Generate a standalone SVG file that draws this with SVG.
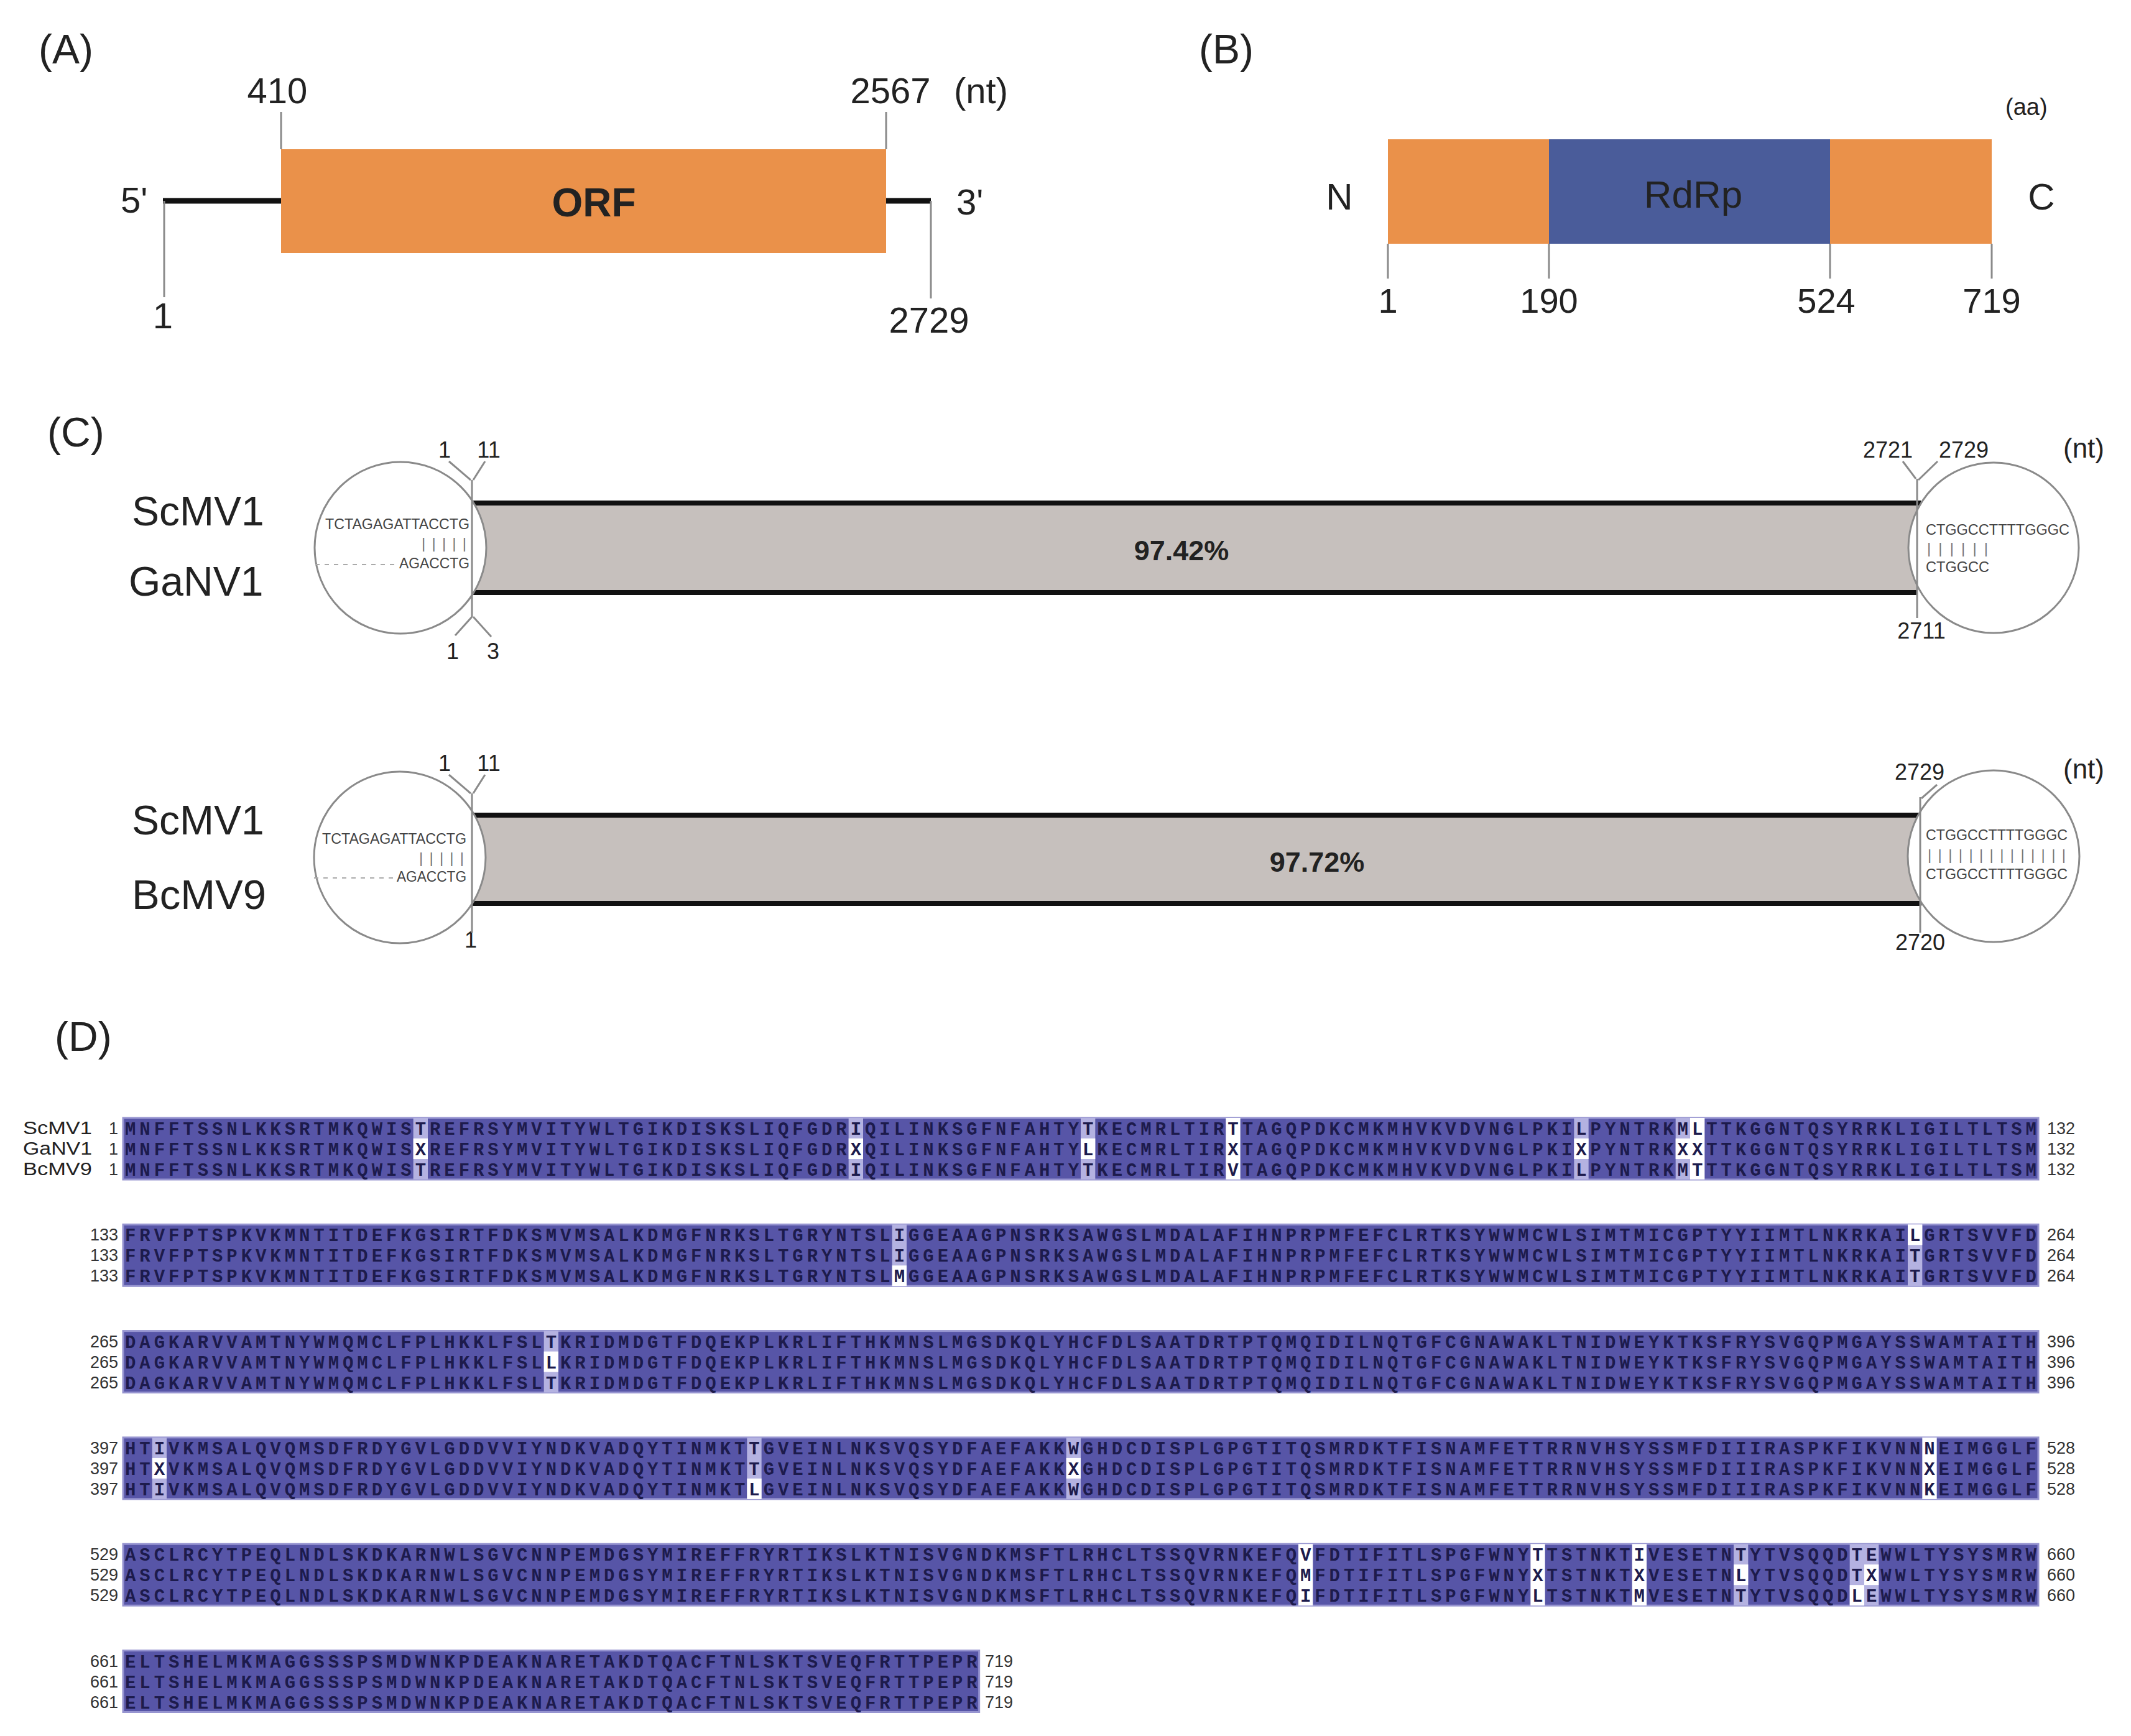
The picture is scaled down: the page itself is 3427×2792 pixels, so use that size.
<svg xmlns="http://www.w3.org/2000/svg" width="3427" height="2792" viewBox="0 0 3427 2792">
<style>
.t{font-family:"Liberation Sans",Arial,sans-serif;fill:#222}
.mid{text-anchor:middle}
.end{text-anchor:end}
.tick{stroke:#8a8a8a;stroke-width:3;fill:none}
.thick{stroke:#111;stroke-width:9}
.bar{stroke:#111;stroke-width:8}
.circ{fill:#fff;stroke:#8a8a8a;stroke-width:3}
.nt{font-family:"Liberation Sans",Arial,sans-serif;font-size:23px;fill:#444}
.pipe{font-family:"Liberation Sans",Arial,sans-serif;font-size:24px;fill:#777}
.seq{font-family:"Liberation Mono","DejaVu Sans Mono",monospace;font-size:29px;font-weight:bold;letter-spacing:5.93px;fill:#1d1b4c}
.num{font-family:"Liberation Sans",Arial,sans-serif;font-size:27px;fill:#333}
.band{fill:#5755a7;stroke:#9694d0;stroke-width:3}
.lav{fill:#b4b2e1}
.wht{fill:#fff}
</style>
<rect width="3427" height="2792" fill="#fff"/>

<!-- Panel A -->
<g id="panelA">
<text class="t" x="62" y="102" font-size="66">(A)</text>
<line class="thick" x1="262" y1="323" x2="452" y2="323"/>
<line class="thick" x1="1425" y1="323" x2="1497" y2="323"/>
<rect id="orf" x="452" y="240" width="973" height="167" fill="#ea914a"/>
<text class="t mid" x="955" y="348" font-size="64" font-weight="bold" fill="#1a1a1a">ORF</text>
<text class="t mid" x="446" y="166" font-size="58">410</text>
<text class="t mid" x="1432" y="166" font-size="58">2567</text>
<text class="t" x="1534" y="166" font-size="58">(nt)</text>
<text class="t" x="194" y="342" font-size="58">5'</text>
<text class="t" x="1538" y="345" font-size="58">3'</text>
<text class="t mid" x="262" y="528" font-size="58">1</text>
<text class="t mid" x="1494" y="535" font-size="58">2729</text>
</g>

<!-- Panel B -->
<g id="panelB">
<text class="t" x="1928" y="102" font-size="66">(B)</text>
<text class="t" x="3225" y="185" font-size="38">(aa)</text>
<rect x="2232" y="224" width="259" height="168" fill="#ea914a"/>
<rect id="rdrp" x="2491" y="224" width="452" height="168" fill="#4a5c9a"/>
<rect x="2943" y="224" width="260" height="168" fill="#ea914a"/>
<text class="t mid" x="2723" y="334" font-size="62" fill="#1b2443">RdRp</text>
<text class="t mid" x="2154" y="337" font-size="60">N</text>
<text class="t mid" x="3283" y="337" font-size="60">C</text>
<text class="t mid" x="2232" y="503" font-size="56">1</text>
<text class="t mid" x="2491" y="503" font-size="56">190</text>
<text class="t mid" x="2937" y="503" font-size="56">524</text>
<text class="t mid" x="3203" y="503" font-size="56">719</text>
</g>

<!-- Panel C -->
<g id="panelC">
<text class="t" x="76" y="718" font-size="66">(C)</text>
<text class="t" x="212" y="845" font-size="66">ScMV1</text>
<text class="t" x="207" y="958" font-size="66">GaNV1</text>
<text class="t" x="212" y="1342" font-size="66">ScMV1</text>
<text class="t" x="212" y="1462" font-size="67">BcMV9</text>

<g id="cmp1">
<rect x="759" y="813" width="2324" height="136" fill="#c6c0bd"/>
<line class="bar" x1="754" y1="809" x2="3089" y2="809"/>
<line class="bar" x1="754" y1="953" x2="3084" y2="953"/>
<circle class="circ" cx="644" cy="881" r="138"/>
<circle class="circ" cx="3206" cy="881" r="137"/>
<text class="t mid" x="1900" y="901" font-size="45" font-weight="bold">97.42%</text>
<text class="nt" x="523" y="851" textLength="232" lengthAdjust="spacingAndGlyphs">TCTAGAGATTACCTG</text>
<text class="pipe" x="678" y="882" textLength="72" lengthAdjust="spacing">|||||</text>
<line x1="507" y1="908" x2="639" y2="908" stroke="#aaa" stroke-width="2" stroke-dasharray="7 8"/>
<text class="nt" x="642" y="914" textLength="113" lengthAdjust="spacingAndGlyphs">AGACCTG</text>
<text class="nt" x="3097" y="860" textLength="231" lengthAdjust="spacingAndGlyphs">CTGGCCTTTTGGGC</text>
<text class="pipe" x="3099" y="890" textLength="98" lengthAdjust="spacing">||||||</text>
<text class="nt" x="3097" y="920" textLength="102" lengthAdjust="spacingAndGlyphs">CTGGCC</text>
<text class="t mid" x="715" y="736" font-size="36">1</text>
<text class="t mid" x="786" y="736" font-size="36">11</text>
<text class="t mid" x="728" y="1060" font-size="36">1</text>
<text class="t mid" x="793" y="1060" font-size="36">3</text>
<text class="t mid" x="3036" y="736" font-size="36">2721</text>
<text class="t mid" x="3158" y="736" font-size="36">2729</text>
<text class="t" x="3318" y="736" font-size="44">(nt)</text>
<text class="t mid" x="3090" y="1027" font-size="36">2711</text>
</g>

<g id="cmp2">
<rect x="759" y="1315" width="2329" height="134" fill="#c6c0bd"/>
<line class="bar" x1="754" y1="1311" x2="3090" y2="1311"/>
<line class="bar" x1="754" y1="1453" x2="3090" y2="1453"/>
<circle class="circ" cx="643" cy="1379" r="138"/>
<circle class="circ" cx="3206" cy="1377" r="138"/>
<text class="t mid" x="2118" y="1402" font-size="45" font-weight="bold">97.72%</text>
<text class="nt" x="518" y="1357" textLength="232" lengthAdjust="spacingAndGlyphs">TCTAGAGATTACCTG</text>
<text class="pipe" x="674" y="1388" textLength="72" lengthAdjust="spacing">|||||</text>
<line x1="505" y1="1412" x2="635" y2="1412" stroke="#aaa" stroke-width="2" stroke-dasharray="7 8"/>
<text class="nt" x="638" y="1418" textLength="112" lengthAdjust="spacingAndGlyphs">AGACCTG</text>
<text class="nt" x="3097" y="1351" textLength="228" lengthAdjust="spacingAndGlyphs">CTGGCCTTTTGGGC</text>
<text class="pipe" x="3100" y="1383" textLength="222" lengthAdjust="spacing">||||||||||||||</text>
<text class="nt" x="3097" y="1414" textLength="228" lengthAdjust="spacingAndGlyphs">CTGGCCTTTTGGGC</text>
<text class="t mid" x="715" y="1240" font-size="36">1</text>
<text class="t mid" x="786" y="1240" font-size="36">11</text>
<text class="t mid" x="757" y="1524" font-size="36">1</text>
<text class="t mid" x="3087" y="1254" font-size="36">2729</text>
<text class="t" x="3318" y="1252" font-size="44">(nt)</text>
<text class="t mid" x="3088" y="1528" font-size="36">2720</text>
</g>
</g>

<!-- connectors / ticks -->
<g id="connectors">
<line class="tick" x1="452" y1="180" x2="452" y2="240"/>
<line class="tick" x1="1425" y1="180" x2="1425" y2="240"/>
<line class="tick" x1="264" y1="323" x2="264" y2="478"/>
<line class="tick" x1="1497" y1="323" x2="1497" y2="480"/>
<line class="tick" x1="2232" y1="392" x2="2232" y2="448"/>
<line class="tick" x1="2491" y1="392" x2="2491" y2="448"/>
<line class="tick" x1="2943" y1="392" x2="2943" y2="448"/>
<line class="tick" x1="3203" y1="392" x2="3203" y2="448"/>
<line class="tick" x1="722" y1="742" x2="757" y2="772"/>
<line class="tick" x1="780" y1="742" x2="761" y2="772"/>
<line class="tick" x1="759" y1="772" x2="759" y2="992"/>
<line class="tick" x1="759" y1="992" x2="732" y2="1022"/>
<line class="tick" x1="761" y1="992" x2="790" y2="1024"/>
<line class="tick" x1="722" y1="1246" x2="757" y2="1276"/>
<line class="tick" x1="780" y1="1246" x2="761" y2="1276"/>
<line class="tick" x1="759" y1="1276" x2="759" y2="1500"/>
<line class="tick" x1="3060" y1="742" x2="3081" y2="770"/>
<line class="tick" x1="3116" y1="742" x2="3085" y2="772"/>
<line class="tick" x1="3083" y1="770" x2="3083" y2="994"/>
<line class="tick" x1="3115" y1="1262" x2="3090" y2="1284"/>
<line class="tick" x1="3088" y1="1282" x2="3088" y2="1500"/>
</g>

<!-- Panel D -->
<g id="panelD">
<text class="t" x="88" y="1690" font-size="66">(D)</text>
<text class="t" x="37" y="1824" font-size="29" textLength="111" lengthAdjust="spacingAndGlyphs">ScMV1</text>
<text class="t" x="37" y="1857" font-size="29" textLength="111" lengthAdjust="spacingAndGlyphs">GaNV1</text>
<text class="t" x="37" y="1890" font-size="29" textLength="111" lengthAdjust="spacingAndGlyphs">BcMV9</text>

<g id="block1" transform="translate(0,1798)">
<rect class="band" x="198" y="0" width="3080" height="99"/>
<rect class="lav" x="664.67" y="0" width="23.33" height="99"/><rect class="wht" x="664.67" y="33" width="23.33" height="33"/>
<rect class="lav" x="1364.67" y="0" width="23.33" height="99"/><rect class="wht" x="1364.67" y="33" width="23.33" height="33"/>
<rect class="lav" x="1738" y="0" width="23.33" height="99"/><rect class="wht" x="1738" y="33" width="23.33" height="33"/>
<rect class="wht" x="1971.33" y="0" width="23.33" height="99"/>
<rect class="lav" x="2531.33" y="0" width="23.33" height="99"/><rect class="wht" x="2531.33" y="33" width="23.33" height="33"/>
<rect class="lav" x="2694.67" y="0" width="23.33" height="99"/><rect class="wht" x="2694.67" y="33" width="23.33" height="33"/>
<rect class="wht" x="2718" y="0" width="23.33" height="99"/>
<text class="seq" x="201" y="27">MNFFTSSNLKKSRTMKQWISTREFRSYMVITYWLTGIKDISKSLIQFGDRIQILINKSGFNFAHTYTKECMRLTIRTTAGQPDKCMKMHVKVDVNGLPKILPYNTRKMLTTKGGNTQSYRRKLIGILTLTSM</text>
<text class="seq" x="201" y="60">MNFFTSSNLKKSRTMKQWISXREFRSYMVITYWLTGIKDISKSLIQFGDRXQILINKSGFNFAHTYLKECMRLTIRXTAGQPDKCMKMHVKVDVNGLPKIXPYNTRKXXTTKGGNTQSYRRKLIGILTLTSM</text>
<text class="seq" x="201" y="93">MNFFTSSNLKKSRTMKQWISTREFRSYMVITYWLTGIKDISKSLIQFGDRIQILINKSGFNFAHTYTKECMRLTIRVTAGQPDKCMKMHVKVDVNGLPKILPYNTRKMTTTKGGNTQSYRRKLIGILTLTSM</text>
<text class="num end" x="190" y="26">1</text><text class="num end" x="190" y="59">1</text><text class="num end" x="190" y="92">1</text>
<text class="num" x="3292" y="26">132</text><text class="num" x="3292" y="59">132</text><text class="num" x="3292" y="92">132</text>
</g>

<g id="block2" transform="translate(0,1969.3)">
<rect class="band" x="198" y="0" width="3080" height="99"/>
<rect class="lav" x="1434.67" y="0" width="23.33" height="99"/><rect class="wht" x="1434.67" y="66" width="23.33" height="33"/>
<rect class="lav" x="3068" y="0" width="23.33" height="99"/><rect class="wht" x="3068" y="0" width="23.33" height="33"/>
<text class="seq" x="201" y="27">FRVFPTSPKVKMNTITDEFKGSIRTFDKSMVMSALKDMGFNRKSLTGRYNTSLIGGEAAGPNSRKSAWGSLMDALAFIHNPRPMFEFCLRTKSYWWMCWLSIMTMICGPTYYIIMTLNKRKAILGRTSVVFD</text>
<text class="seq" x="201" y="60">FRVFPTSPKVKMNTITDEFKGSIRTFDKSMVMSALKDMGFNRKSLTGRYNTSLIGGEAAGPNSRKSAWGSLMDALAFIHNPRPMFEFCLRTKSYWWMCWLSIMTMICGPTYYIIMTLNKRKAITGRTSVVFD</text>
<text class="seq" x="201" y="93">FRVFPTSPKVKMNTITDEFKGSIRTFDKSMVMSALKDMGFNRKSLTGRYNTSLMGGEAAGPNSRKSAWGSLMDALAFIHNPRPMFEFCLRTKSYWWMCWLSIMTMICGPTYYIIMTLNKRKAITGRTSVVFD</text>
<text class="num end" x="190" y="26">133</text><text class="num end" x="190" y="59">133</text><text class="num end" x="190" y="92">133</text>
<text class="num" x="3292" y="26">264</text><text class="num" x="3292" y="59">264</text><text class="num" x="3292" y="92">264</text>
</g>

<g id="block3" transform="translate(0,2140.6)">
<rect class="band" x="198" y="0" width="3080" height="99"/>
<rect class="lav" x="874.67" y="0" width="23.33" height="99"/><rect class="wht" x="874.67" y="33" width="23.33" height="33"/>
<text class="seq" x="201" y="27">DAGKARVVAMTNYWMQMCLFPLHKKLFSLTKRIDMDGTFDQEKPLKRLIFTHKMNSLMGSDKQLYHCFDLSAATDRTPTQMQIDILNQTGFCGNAWAKLTNIDWEYKTKSFRYSVGQPMGAYSSWAMTAITH</text>
<text class="seq" x="201" y="60">DAGKARVVAMTNYWMQMCLFPLHKKLFSLLKRIDMDGTFDQEKPLKRLIFTHKMNSLMGSDKQLYHCFDLSAATDRTPTQMQIDILNQTGFCGNAWAKLTNIDWEYKTKSFRYSVGQPMGAYSSWAMTAITH</text>
<text class="seq" x="201" y="93">DAGKARVVAMTNYWMQMCLFPLHKKLFSLTKRIDMDGTFDQEKPLKRLIFTHKMNSLMGSDKQLYHCFDLSAATDRTPTQMQIDILNQTGFCGNAWAKLTNIDWEYKTKSFRYSVGQPMGAYSSWAMTAITH</text>
<text class="num end" x="190" y="26">265</text><text class="num end" x="190" y="59">265</text><text class="num end" x="190" y="92">265</text>
<text class="num" x="3292" y="26">396</text><text class="num" x="3292" y="59">396</text><text class="num" x="3292" y="92">396</text>
</g>

<g id="block4" transform="translate(0,2311.9)">
<rect class="band" x="198" y="0" width="3080" height="99"/>
<rect class="lav" x="244.67" y="0" width="23.33" height="99"/><rect class="wht" x="244.67" y="33" width="23.33" height="33"/>
<rect class="lav" x="1201.33" y="0" width="23.33" height="99"/><rect class="wht" x="1201.33" y="66" width="23.33" height="33"/>
<rect class="lav" x="1714.67" y="0" width="23.33" height="99"/><rect class="wht" x="1714.67" y="33" width="23.33" height="33"/>
<rect class="wht" x="3091.33" y="0" width="23.33" height="99"/>
<text class="seq" x="201" y="27">HTIVKMSALQVQMSDFRDYGVLGDDVVIYNDKVADQYTINMKTTGVEINLNKSVQSYDFAEFAKKWGHDCDISPLGPGTITQSMRDKTFISNAMFETTRRNVHSYSSMFDIIIRASPKFIKVNNNEIMGGLF</text>
<text class="seq" x="201" y="60">HTXVKMSALQVQMSDFRDYGVLGDDVVIYNDKVADQYTINMKTTGVEINLNKSVQSYDFAEFAKKXGHDCDISPLGPGTITQSMRDKTFISNAMFETTRRNVHSYSSMFDIIIRASPKFIKVNNXEIMGGLF</text>
<text class="seq" x="201" y="93">HTIVKMSALQVQMSDFRDYGVLGDDVVIYNDKVADQYTINMKTLGVEINLNKSVQSYDFAEFAKKWGHDCDISPLGPGTITQSMRDKTFISNAMFETTRRNVHSYSSMFDIIIRASPKFIKVNNKEIMGGLF</text>
<text class="num end" x="190" y="26">397</text><text class="num end" x="190" y="59">397</text><text class="num end" x="190" y="92">397</text>
<text class="num" x="3292" y="26">528</text><text class="num" x="3292" y="59">528</text><text class="num" x="3292" y="92">528</text>
</g>

<g id="block5" transform="translate(0,2483.2)">
<rect class="band" x="198" y="0" width="3080" height="99"/>
<rect class="wht" x="2088" y="0" width="23.33" height="99"/>
<rect class="wht" x="2461.33" y="0" width="23.33" height="99"/>
<rect class="wht" x="2624.67" y="0" width="23.33" height="99"/>
<rect class="lav" x="2788" y="0" width="23.33" height="99"/><rect class="wht" x="2788" y="33" width="23.33" height="33"/>
<rect class="lav" x="2974.67" y="0" width="23.33" height="99"/><rect class="wht" x="2974.67" y="66" width="23.33" height="33"/>
<rect class="lav" x="2998" y="0" width="23.33" height="99"/><rect class="wht" x="2998" y="33" width="23.33" height="33"/>
<text class="seq" x="201" y="27">ASCLRCYTPEQLNDLSKDKARNWLSGVCNNPEMDGSYMIREFFRYRTIKSLKTNISVGNDKMSFTLRHCLTSSQVRNKEFQVFDTIFITLSPGFWNYTTSTNKTIVESETNTYTVSQQDTEWWLTYSYSMRW</text>
<text class="seq" x="201" y="60">ASCLRCYTPEQLNDLSKDKARNWLSGVCNNPEMDGSYMIREFFRYRTIKSLKTNISVGNDKMSFTLRHCLTSSQVRNKEFQMFDTIFITLSPGFWNYXTSTNKTXVESETNLYTVSQQDTXWWLTYSYSMRW</text>
<text class="seq" x="201" y="93">ASCLRCYTPEQLNDLSKDKARNWLSGVCNNPEMDGSYMIREFFRYRTIKSLKTNISVGNDKMSFTLRHCLTSSQVRNKEFQIFDTIFITLSPGFWNYLTSTNKTMVESETNTYTVSQQDLEWWLTYSYSMRW</text>
<text class="num end" x="190" y="26">529</text><text class="num end" x="190" y="59">529</text><text class="num end" x="190" y="92">529</text>
<text class="num" x="3292" y="26">660</text><text class="num" x="3292" y="59">660</text><text class="num" x="3292" y="92">660</text>
</g>

<g id="block6" transform="translate(0,2654.5)">
<rect class="band" x="198" y="0" width="1376.67" height="99"/>
<text class="seq" x="201" y="27">ELTSHELMKMAGGSSSPSMDWNKPDEAKNARETAKDTQACFTNLSKTSVEQFRTTPEPR</text>
<text class="seq" x="201" y="60">ELTSHELMKMAGGSSSPSMDWNKPDEAKNARETAKDTQACFTNLSKTSVEQFRTTPEPR</text>
<text class="seq" x="201" y="93">ELTSHELMKMAGGSSSPSMDWNKPDEAKNARETAKDTQACFTNLSKTSVEQFRTTPEPR</text>
<text class="num end" x="190" y="26">661</text><text class="num end" x="190" y="59">661</text><text class="num end" x="190" y="92">661</text>
<text class="num" x="1584" y="26">719</text><text class="num" x="1584" y="59">719</text><text class="num" x="1584" y="92">719</text>
</g>
</g>
</svg>
